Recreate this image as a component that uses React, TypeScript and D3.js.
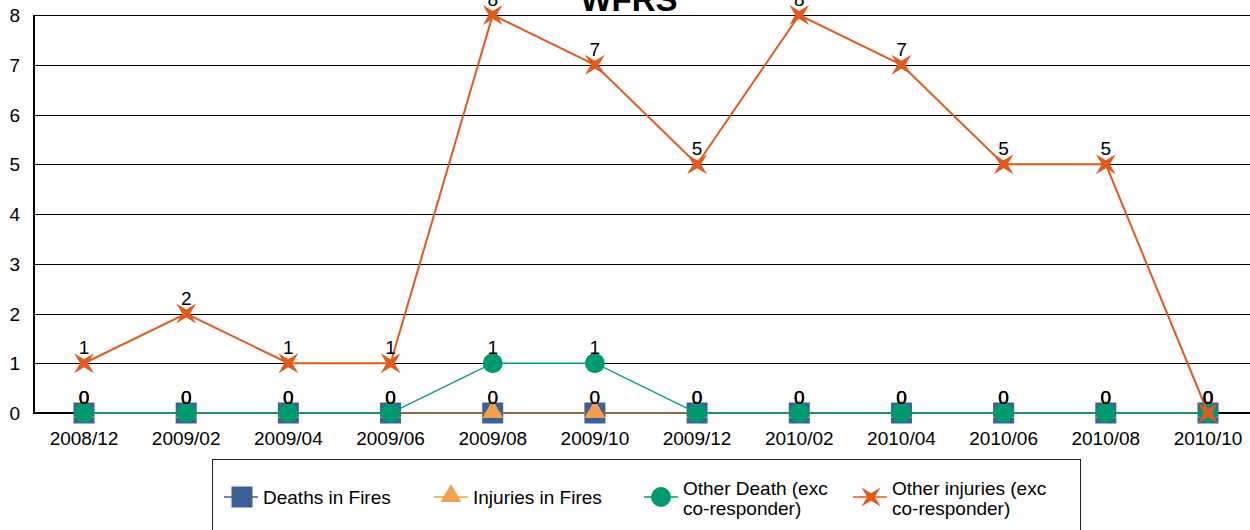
import React from "react";
import * as d3 from "d3";

const categories = ["2008/12","2009/02","2009/04","2009/06","2009/08","2009/10","2009/12","2010/02","2010/04","2010/06","2010/08","2010/10"];
const deathsInFires = [0,0,0,0,0,0,0,0,0,0,0,0];
const injuriesInFires = [0,0,0,0,0,0,0,0,0,0,0,0];
const otherDeath = [0,0,0,0,1,1,0,0,0,0,0,0];
const otherInjuries = [1,2,1,1,8,7,5,8,7,5,5,0];
const yTicks = [0,1,2,3,4,5,6,7,8];

const W = 1250, H = 530;
const FONT = "Liberation Sans, Arial, sans-serif";

const BLUE = "#3B6197";
const ORANGE = "#F2A04C";
const GREEN = "#009A70";
const RED = "#E25A1E";

function starPath(R: number, r: number) {
  const pts: [number, number][] = [];
  for (let i = 0; i < 8; i++) {
    const a = Math.PI / 4 + (i * Math.PI) / 4;
    const rad = i % 2 === 0 ? R : r;
    pts.push([Math.cos(a) * rad, Math.sin(a) * rad]);
  }
  return "M" + pts.map((p) => p[0].toFixed(2) + "," + p[1].toFixed(2)).join("L") + "Z";
}

export default function App() {
  const x = d3.scalePoint<string>().domain(categories).range([84, 1208]);
  const y = d3.scaleLinear().domain([0, 8]).range([413, 15]);
  const line = (vals: number[]) =>
    d3.line<number>().x((_, i) => x(categories[i]) as number).y((v) => y(v))(vals) as string;

  const tri = d3.symbol().type(d3.symbolTriangle).size(190)() as string;
  const star = starPath(14, 4);
  const starSmall = starPath(13.5, 3.8);

  const series = [
    { name: ["Deaths in Fires"], vals: deathsInFires, color: BLUE },
    { name: ["Injuries in Fires"], vals: injuriesInFires, color: ORANGE },
    { name: ["Other Death (exc", "co-responder)"], vals: otherDeath, color: GREEN },
    { name: ["Other injuries (exc", "co-responder)"], vals: otherInjuries, color: RED },
  ];

  const marker = (si: number, cx: number, cy: number, key: string, legend = false) => {
    if (si === 0) return <rect key={key} x={cx - 10.5} y={cy - 10.5} width={21} height={21} fill={BLUE} />;
    if (si === 1) return <path key={key} d={tri} transform={`translate(${cx},${cy - 1})`} fill={ORANGE} />;
    if (si === 2) return <circle key={key} cx={cx} cy={cy} r={10} fill={GREEN} />;
    return <path key={key} d={legend ? starSmall : star} transform={`translate(${cx},${cy})`} fill={RED} />;
  };

  const legendItems = [
    { lx: 224, mx: 242, tx: 263 },
    { lx: 434, mx: 451, tx: 473 },
    { lx: 644, mx: 661, tx: 683 },
    { lx: 853, mx: 871, tx: 892 },
  ];

  const FS = 19;

  return (
    <svg width={W} height={H} style={{ position: "absolute", left: 0, top: 0 }} fontFamily={FONT}>
      <rect x={0} y={0} width={W} height={H} fill="#fff" />
      {yTicks.filter((t) => t > 0).map((t) => (
        <line key={t} x1={34} x2={W} y1={Math.round(y(t)) + 0.5} y2={Math.round(y(t)) + 0.5} stroke="#000" strokeWidth={1} />
      ))}
      <text x={629} y={11} textAnchor="middle" fontSize={33} fontWeight="bold" fill="#000">WFRS</text>
      {yTicks.map((t) => (
        <text key={t} x={20} y={y(t) + 7} textAnchor="end" fontSize={FS} fill="#000">{t}</text>
      ))}
      {categories.map((c) => (
        <text key={c} x={x(c)} y={445} textAnchor="middle" fontSize={FS} fill="#000">{c}</text>
      ))}
      <line x1={34} x2={34} y1={15} y2={414} stroke="#000" strokeWidth={2} />
      <line x1={33} x2={W} y1={413} y2={413} stroke="#000" strokeWidth={2} />
      <path d={line(deathsInFires)} fill="none" stroke={BLUE} strokeWidth={2} />
      {deathsInFires.map((v, i) => marker(0, x(categories[i]) as number, y(v), "d" + i))}
      <path d={line(injuriesInFires)} fill="none" stroke="#8E6A48" strokeWidth={2} />
      {injuriesInFires.map((v, i) => marker(1, x(categories[i]) as number, y(v), "i" + i))}
      <path d={line(otherDeath)} fill="none" stroke={GREEN} strokeWidth={1.3} />
      {otherDeath.map((v, i) => marker(2, x(categories[i]) as number, y(v), "o" + i))}
      <path d={line(otherInjuries)} fill="none" stroke={RED} strokeWidth={2} />
      {otherInjuries.map((v, i) => marker(3, x(categories[i]) as number, y(v), "s" + i))}
      {series.map((s, si) =>
        s.vals.map((v, i) => (
          <text key={si + "-" + i} x={x(categories[i])} y={y(v) - 9} textAnchor="middle" fontSize={FS} fill="#000">{v}</text>
        ))
      )}
      <rect x={212.5} y={459.5} width={868} height={80} fill="#fff" stroke="#222" strokeWidth={1} />
      {series.map((s, si) => {
        const it = legendItems[si];
        const cy = 497;
        return (
          <g key={"lg" + si}>
            <line x1={it.lx} x2={it.lx + 34} y1={cy} y2={cy} stroke={s.color} strokeWidth={1.5} />
            {marker(si, it.mx, cy, "lm" + si, true)}
            {s.name.length === 1 ? (
              <text x={it.tx} y={504} fontSize={FS} fill="#000">{s.name[0]}</text>
            ) : (
              <text fontSize={FS} fill="#000">
                <tspan x={it.tx} y={495}>{s.name[0]}</tspan>
                <tspan x={it.tx} y={515}>{s.name[1]}</tspan>
              </text>
            )}
          </g>
        );
      })}
    </svg>
  );
}
